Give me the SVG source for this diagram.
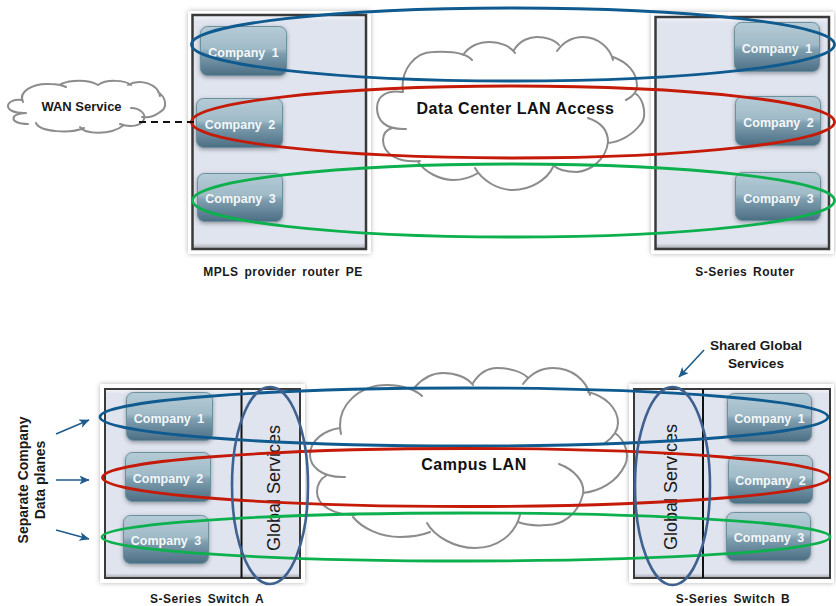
<svg xmlns="http://www.w3.org/2000/svg" width="836" height="606" viewBox="0 0 836 606">
<defs>
<linearGradient id="card" x1="0" y1="0" x2="0" y2="1"><stop offset="0" stop-color="#b5ccd7"/><stop offset="0.45" stop-color="#a0bac7"/><stop offset="0.55" stop-color="#7f9fb0"/><stop offset="1" stop-color="#4c6e84"/></linearGradient>
<linearGradient id="panel" x1="0" y1="0" x2="0" y2="1"><stop offset="0" stop-color="#f5f6fa"/><stop offset="0.025" stop-color="#e0e4ef"/><stop offset="0.975" stop-color="#e0e4ef"/><stop offset="1" stop-color="#a4a6ac"/></linearGradient>
<filter id="sh" x="-10%" y="-10%" width="120%" height="125%"><feDropShadow dx="0" dy="1.5" stdDeviation="2" flood-color="#000" flood-opacity="0.35"/></filter>
<filter id="sh2" x="-5%" y="-5%" width="110%" height="110%"><feDropShadow dx="0" dy="0" stdDeviation="2.5" flood-color="#000" flood-opacity="0.3"/></filter>
<marker id="arr" markerWidth="11" markerHeight="10" refX="9.5" refY="4.500" orient="auto" markerUnits="userSpaceOnUse"><path d="M0 0L10 4.500L0 9L2.500 4.500Z" fill="#1f5c8c"/></marker>
</defs>
<style>
text{font-family:"Liberation Sans",Arial,sans-serif;font-weight:bold}
.outer{fill:#fff;filter:url(#sh2)}
.inner{fill:url(#panel);stroke:#3a3a3a;stroke-width:2}
.div{stroke:#111;stroke-width:2}
.card{fill:url(#card);stroke:#6d909f;stroke-width:1;filter:url(#sh)}
.ct{fill:#f4f8fa;font-size:12.500px;text-anchor:middle;word-spacing:3px}
.lab{fill:#1a1a1a;font-size:12px;text-anchor:middle;letter-spacing:.5px;word-spacing:2px}
.cap{fill:#1a1a1a;font-size:13px;text-anchor:middle}
.big{fill:#111;font-size:16px;text-anchor:middle;letter-spacing:.5px}
.side{fill:#1a1a1a;font-size:14px;text-anchor:middle}
.gs{fill:#1a1a1a;font-size:18px;font-weight:normal;text-anchor:middle;-webkit-text-stroke:.6px #1a1a1a}
.cl{fill:none;stroke:#8c8c8c;stroke-width:2;stroke-linecap:round}
.lp{fill:none;stroke-width:2.800}
.b{stroke:#0f5a8f}.r{stroke:#c41a07}.g{stroke:#0cb04c}
.gl{fill:none;stroke:#3f618f;stroke-width:2.600}
.ar{stroke:#1f5c8c;stroke-width:1.600;fill:none;marker-end:url(#arr)}
</style>

<g id="mpls-router">
<rect class="outer" x="188" y="11" width="183" height="243" rx="2"/>
<rect class="inner" x="192.500" y="15" width="173.500" height="234" style="stroke-width:2.500"/>
<text class="lab" x="283" y="276">MPLS provider router PE</text>
</g>
<g id="s-series-router">
<rect class="outer" x="651" y="12" width="183" height="242" rx="2"/>
<rect class="inner" x="655.500" y="17" width="173.500" height="232" style="stroke-width:2.500"/>
<text class="lab" x="745" y="276">S-Series Router</text>
</g>
<g id="switch-a">
<rect class="outer" x="100" y="384" width="205" height="199" rx="2"/>
<rect class="inner" x="105" y="389" width="195" height="189"/>
<line class="div" x1="241.500" y1="389" x2="241.500" y2="578"/>
<text class="gs" transform="translate(280 488) rotate(-90)">Global Services</text>
<text class="lab" x="207" y="603">S-Series Switch A</text>
</g>
<g id="switch-b">
<rect class="outer" x="629" y="384" width="205" height="199" rx="2"/>
<rect class="inner" x="634" y="389" width="196" height="189"/>
<line class="div" x1="703" y1="389" x2="703" y2="578"/>
<text class="gs" transform="translate(677 487) rotate(-90)">Global Services</text>
<text class="lab" x="733" y="603">S-Series Switch B</text>
</g>

<g id="c1a"><rect class="card" x="200.500" y="26.500" width="86" height="49" rx="7"/><text class="ct" x="243.500" y="57">Company 1</text></g>
<g id="c2a"><rect class="card" x="196.500" y="98.500" width="86" height="49" rx="7"/><text class="ct" x="240" y="129">Company 2</text></g>
<g id="c3a"><rect class="card" x="197.500" y="173.500" width="85" height="48" rx="7"/><text class="ct" x="240.500" y="203">Company 3</text></g>
<g id="c1b"><rect class="card" x="734.500" y="22.500" width="85" height="49" rx="7"/><text class="ct" x="777" y="53">Company 1</text></g>
<g id="c2b"><rect class="card" x="735.500" y="96.500" width="85" height="49" rx="7"/><text class="ct" x="778.500" y="127">Company 2</text></g>
<g id="c3b"><rect class="card" x="735.500" y="172.500" width="85" height="48" rx="7"/><text class="ct" x="778.500" y="203">Company 3</text></g>
<g id="c1c"><rect class="card" x="126.500" y="392.500" width="86" height="48" rx="7"/><text class="ct" x="169" y="423">Company 1</text></g>
<g id="c2c"><rect class="card" x="125.500" y="452.500" width="85" height="49" rx="7"/><text class="ct" x="168" y="483">Company 2</text></g>
<g id="c3c"><rect class="card" x="123.500" y="515.500" width="85" height="48" rx="7"/><text class="ct" x="166" y="545">Company 3</text></g>
<g id="c1d"><rect class="card" x="727.500" y="393.500" width="84" height="48" rx="7"/><text class="ct" x="769.500" y="423">Company 1</text></g>
<g id="c2d"><rect class="card" x="728.500" y="455.500" width="84" height="48" rx="7"/><text class="ct" x="770.500" y="485">Company 2</text></g>
<g id="c3d"><rect class="card" x="726.500" y="512.500" width="84" height="48" rx="7"/><text class="ct" x="769" y="542">Company 3</text></g>

<g id="wan-cloud">
<path class="cl" d="M24 113C14 113 8 110 8 106C8 102 14 99 22 100M23 102C18 92 32 83 50 84C56 84 62 85 66 87M61 84C70 80 88 79 98 85M98 85C106 79 125 80 131 85M128 85C140 78 158 84 160 96M158 92C166 97 168 108 160 112C155 116 148 118 142 117M131 108C140 108 146 114 144 119C142 126 130 128 120 124M124 125C110 136 84 134 80 127M84 128C70 134 40 132 36 123M26 113C10 113 8 124 28 124"/>
<text class="cap" x="81.500" y="110.500">WAN Service</text>
</g>
<g id="dc-cloud">
<path class="cl" d="M406 129C385 130 377 120 377 108C377 95 388 90 402 92M403 92C400 70 415 52 433 52C450 51 465 52 472 60M463 55C470 45 480 42 490 42C500 42 510 46 515 53M514 50C520 40 530 37 537 37C546 37 555 40 559 45M557 51C565 40 575 37 583 37C598 37 610 48 613 60M613 57C627 62 637 72 637 86C637 92 632 97 626 100M635 93C645 100 647 118 640 125C632 135 620 142 608 143M588 118C600 122 608 130 608 142C606 160 590 171 577 172C568 172 558 170 553 165M553 167C547 180 530 190 513 190C497 190 482 180 475 168M478 173C470 178 462 180 453 180C440 180 425 172 418 162M420 161C400 163 383 155 383 140C383 134 386 130 392 128"/>
<text class="big" x="515.500" y="114">Data Center LAN Access</text>
</g>
<g id="campus-cloud">
<path class="cl" d="M345 477C320 478 310 465 310 455C310 440 325 430 340 428M341 434C335 405 360 385 387 385C402 385 416 390 422 396M415 387C423 378 433 373 443 373C455 373 467 377 473 385M473 383C480 372 488 368 497 368C510 368 522 372 527 377M523 384C532 372 543 368 553 368C572 368 586 380 590 395M588 392C605 396 618 408 618 423C618 432 612 438 605 443M615 433C625 440 630 455 625 465C617 482 600 491 583 493M559 464C575 470 585 482 583 494C578 515 562 525 547 525C536 526 526 525 518 522M520 515C515 535 497 548 475 548C455 548 435 537 427 523M430 532C420 536 410 537 400 537C380 537 362 528 353 517M355 515C333 515 317 505 317 492C317 485 320 479 327 475"/>
<text class="big" x="474" y="470">Campus LAN</text>
</g>
<g id="callouts">
<text class="side" transform="translate(28 480) rotate(-90)">Separate Company</text>
<text class="side" transform="translate(45 480) rotate(-90)">Data planes</text>
<text class="side" style="font-size:13.600px" x="756" y="350">Shared Global</text>
<text class="side" style="font-size:13.600px" x="756" y="368">Services</text>
</g>

<g id="connectors">
<ellipse class="lp b" cx="513" cy="44.500" rx="321.500" ry="36.500"/>
<ellipse class="lp r" cx="513" cy="122" rx="321.500" ry="36"/>
<ellipse class="lp g" cx="513.500" cy="200.500" rx="321" ry="36.500"/>
<ellipse class="lp b" cx="464" cy="417" rx="364" ry="29"/>
<ellipse class="lp r" cx="466" cy="477.500" rx="363.500" ry="29"/>
<ellipse class="lp g" cx="466" cy="537" rx="364" ry="24"/>
<ellipse class="gl" cx="270" cy="485.500" rx="38" ry="98.500"/>
<ellipse class="gl" cx="672.500" cy="486" rx="37.500" ry="99"/>
<line x1="139" y1="122" x2="195" y2="122" stroke="#111" stroke-width="2" stroke-dasharray="7 5"/>
<line class="ar" x1="56" y1="434" x2="89" y2="420"/>
<line class="ar" x1="56" y1="480" x2="89" y2="480"/>
<line class="ar" x1="56" y1="530" x2="89" y2="539"/>
<line class="ar" x1="704" y1="350" x2="679" y2="377"/>
</g>
</svg>
